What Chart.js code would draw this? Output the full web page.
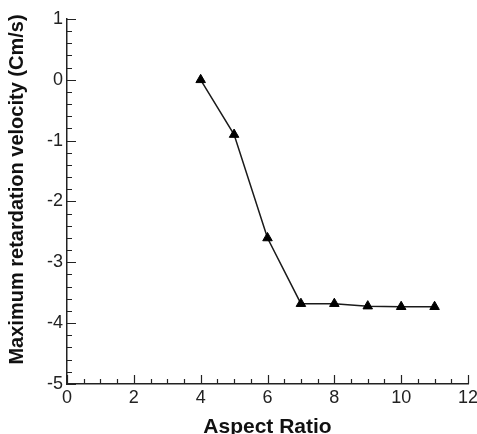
<!DOCTYPE html>
<html>
<head>
<meta charset="utf-8">
<script src="https://cdn.jsdelivr.net/npm/chart.js@4/dist/chart.umd.min.js"></script>
<style>
    html, body { margin: 0; padding: 0; background: #fff; }
    #wrap { width: 477px; height: 434px; overflow: hidden; position: relative; }
    canvas { position: absolute; left: 0; top: 0; }
</style>
</head>
<body>
<div id="wrap"><canvas id="chart" width="490" height="445"></canvas></div>
<script>
// datos
const aspectRatio = [4, 5, 6, 7, 8, 9, 10, 11];
const retardationVelocity = [0, -0.9, -2.6, -3.68, -3.68, -3.72, -3.73, -3.73];
const xTickRange = [0, 12];
const yTickRange = [-5, 1];
const xTitle = "Aspect Ratio";
const yTitle = "Maximum retardation velocity (Cm/s)";

(function () {
    "use strict";

    const FONT = "'Liberation Sans', Arial, sans-serif";

    // ticks hacia adentro (mayores y menores) + titulo del eje Y
    const inwardTicks = {
        id: "inwardTicks",
        afterDraw(chart) {
            const ctx = chart.ctx;
            const x = chart.scales.x;
            const y = chart.scales.y;
            const area = chart.chartArea;
            ctx.save();
            ctx.strokeStyle = "#222";
            ctx.lineWidth = 1.2;
            ctx.beginPath();
            for (let v = xTickRange[0]; v <= xTickRange[1] + 1e-9; v += 0.5) {
                const px = Math.round(x.getPixelForValue(v)) + 0.5;
                const len = (Math.abs(v % 2) < 1e-9) ? 9 : 5;
                ctx.moveTo(px, area.bottom);
                ctx.lineTo(px, area.bottom - len);
            }
            for (let v = yTickRange[0]; v <= yTickRange[1] + 1e-9; v += 0.2) {
                const py = Math.round(y.getPixelForValue(v)) + 0.5;
                const major = Math.abs(v - Math.round(v)) < 1e-6;
                ctx.moveTo(area.left, py);
                ctx.lineTo(area.left + (major ? 9 : 5), py);
            }
            ctx.stroke();

            // titulo Y (un poco por encima del centro, como en el original)
            ctx.translate(17, (area.top + area.bottom) / 2 - 12);
            ctx.rotate(-Math.PI / 2);
            ctx.fillStyle = "#111";
            ctx.font = "bold 20px " + FONT;
            ctx.textAlign = "center";
            ctx.textBaseline = "middle";
            ctx.fillText(yTitle, 0, 0);
            ctx.restore();
        }
    };

    const ctx = document.getElementById("chart").getContext("2d");

    new Chart(ctx, {
        type: "line",
        data: {
            datasets: [{
                data: aspectRatio.map((a, i) => ({ x: a, y: retardationVelocity[i] })),
                borderColor: "#1a1a1a",
                borderWidth: 1.5,
                backgroundColor: "#000",
                pointStyle: "triangle",
                pointRadius: 5.5,
                pointBorderWidth: 1,
                pointBorderColor: "#000",
                pointBackgroundColor: "#000",
                tension: 0
            }]
        },
        options: {
            responsive: false,
            animation: false,
            layout: {
                padding: { left: 0, top: 19, right: 22, bottom: 0 }
            },
            plugins: {
                legend: { display: false },
                tooltip: { enabled: false }
            },
            scales: {
                x: {
                    type: "linear",
                    min: xTickRange[0],
                    max: xTickRange[1],
                    grid: { display: false, drawTicks: false },
                    border: { display: true, color: "#222", width: 1.5 },
                    ticks: {
                        stepSize: 2,
                        color: "#222",
                        padding: 3,
                        font: { family: FONT, size: 18 }
                    },
                    title: {
                        display: true,
                        text: xTitle,
                        color: "#111",
                        padding: { top: 0, bottom: 5 },
                        font: { family: FONT, size: 21, weight: "bold" }
                    },
                    afterFit(scale) { scale.height = 61; }
                },
                y: {
                    min: yTickRange[0],
                    max: yTickRange[1],
                    grid: { display: false, drawTicks: false },
                    border: { display: true, color: "#222", width: 1.5 },
                    ticks: {
                        stepSize: 1,
                        color: "#222",
                        padding: 4,
                        font: { family: FONT, size: 18 }
                    },
                    afterFit(scale) { scale.width = 67; }
                }
            }
        },
        plugins: [inwardTicks]
    });
})();
</script>
</body>
</html>
